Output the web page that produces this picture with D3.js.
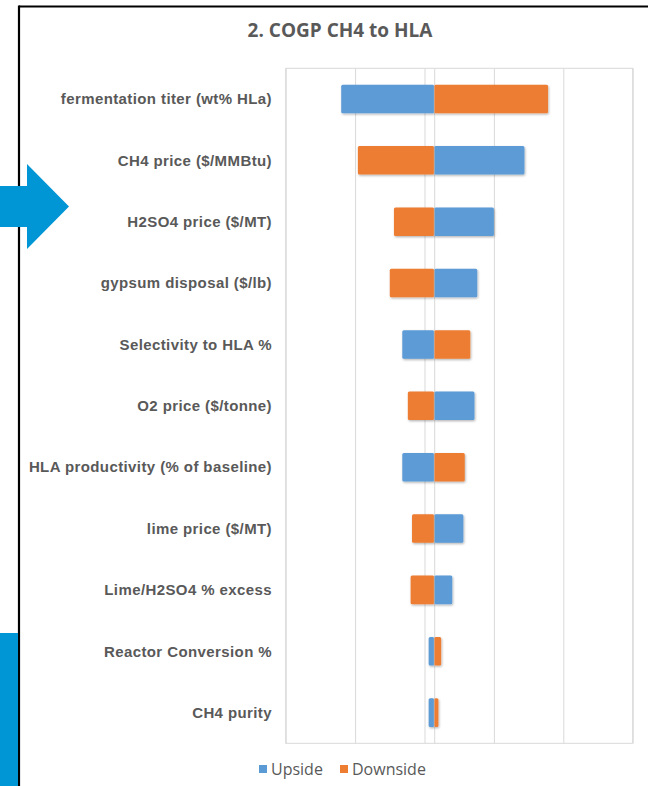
<!DOCTYPE html>
<html>
<head>
<meta charset="utf-8">
<script src="https://cdn.jsdelivr.net/npm/d3@7"></script>
<style>
  html, body { margin: 0; padding: 0; background: #fff; }
  svg { display: block; }
</style>
</head>
<body>
<svg id="chart" width="648" height="786"></svg>
<script>
// Sensitivity parameters, top (largest swing) to bottom
const categories = [
  "fermentation titer (wt% HLa)",
  "CH4 price ($/MMBtu)",
  "H2SO4 price ($/MT)",
  "gypsum disposal ($/lb)",
  "Selectivity to HLA %",
  "O2 price ($/tonne)",
  "HLA productivity (% of baseline)",
  "lime price ($/MT)",
  "Lime/H2SO4 % excess",
  "Reactor Conversion %",
  "CH4 purity"
];
// Result for each parameter at its upside and downside setting
const upside   = [0.90, 2.22, 2.00, 1.88, 1.34, 1.86, 1.34, 1.78, 1.70, 1.53, 1.53];
const downside = [2.39, 1.02, 1.28, 1.25, 1.83, 1.38, 1.79, 1.41, 1.40, 1.62, 1.60];
const baseValue = 1.57;
const xTicks = [0.5, 1.0, 1.5, 2.0, 2.5, 3.0];
const seriesNames = ["Upside", "Downside"];
const seriesColors = ["#5B9BD5", "#ED7D31"];
const title = "2. COGP CH4 to HLA";

const svg = d3.select("#chart");

// Slide frame lines
svg.append("line").attr("x1", 19).attr("x2", 648).attr("y1", 6.5).attr("y2", 6.5)
  .attr("stroke", "#000").attr("stroke-width", 2.2);
svg.append("line").attr("x1", 19).attr("x2", 19).attr("y1", 5.4).attr("y2", 786)
  .attr("stroke", "#000").attr("stroke-width", 2.2);

// Slide decorations: pointer arrow and side bar
svg.append("polygon")
  .attr("points", "0,186 27,186 27,164 69,206.5 27,249 27,227 0,227")
  .attr("fill", "#0096D6");
svg.append("rect").attr("x", 0).attr("y", 633).attr("width", 18).attr("height", 153)
  .attr("fill", "#0096D6");

// Title
svg.append("text")
  .attr("x", 340).attr("y", 37)
  .attr("text-anchor", "middle")
  .attr("font-family", "'Open Sans', sans-serif")
  .attr("font-weight", "bold")
  .attr("font-size", 19)
  .attr("fill", "#595959")
  .text(title);

const plot = { left: 285.7, right: 632.7, top: 68.3, bottom: 743.3 };

const x = d3.scaleLinear().domain([xTicks[0], xTicks[xTicks.length - 1]])
  .range([plot.left, plot.right]);
const y = d3.scaleBand().domain(categories)
  .range([plot.top, plot.bottom])
  .paddingInner(0.535).paddingOuter(0.2675);

// Drop shadow for bars
const defs = svg.append("defs");
const f = defs.append("filter").attr("id", "shadow")
  .attr("x", "-20%").attr("y", "-30%").attr("width", "140%").attr("height", "160%");
f.append("feDropShadow").attr("dx", 0.8).attr("dy", 1.2).attr("stdDeviation", 1)
  .attr("flood-color", "#000").attr("flood-opacity", 0.3);

// Gridlines from the x axis, ticks without labels
const gridAxis = d3.axisBottom(x).tickValues(xTicks)
  .tickSize(-(plot.bottom - plot.top)).tickFormat("");
const grid = svg.append("g")
  .attr("transform", `translate(0,${plot.bottom})`)
  .call(gridAxis);
grid.select(".domain").remove();
grid.selectAll(".tick line").attr("stroke", "#d9d9d9").attr("stroke-width", 1);

// Plot area border
svg.append("rect")
  .attr("x", plot.left).attr("y", plot.top)
  .attr("width", plot.right - plot.left).attr("height", plot.bottom - plot.top)
  .attr("fill", "none").attr("stroke", "#d9d9d9").attr("stroke-width", 1);

// Vertical category axis at the base value
const yAxis = svg.append("g")
  .attr("transform", `translate(${x(baseValue)},0)`)
  .call(d3.axisLeft(y).tickSize(0).tickFormat(""));
yAxis.select(".domain").attr("stroke", "#d9d9d9");

// Bars
const rows = categories.map((c, i) => ({ cat: c, vals: [upside[i], downside[i]] }));
const barG = svg.append("g").attr("filter", "url(#shadow)");
rows.forEach(r => {
  r.vals.forEach((v, s) => {
    const x0 = Math.min(x(baseValue), x(v));
    const x1 = Math.max(x(baseValue), x(v));
    barG.append("rect")
      .attr("x", x0).attr("y", y(r.cat))
      .attr("width", x1 - x0).attr("height", y.bandwidth())
      .attr("rx", 1.5)
      .attr("fill", seriesColors[s]);
  });
});
// thin divider where the two halves meet
svg.append("g").selectAll("line").data(categories).join("line")
  .attr("x1", x(baseValue)).attr("x2", x(baseValue))
  .attr("y1", d => y(d)).attr("y2", d => y(d) + y.bandwidth())
  .attr("stroke", "#c9c9c9").attr("stroke-width", 0.8).attr("opacity", 0.6);

// Category labels
svg.append("g").selectAll("text").data(categories).join("text")
  .attr("x", 272)
  .attr("y", d => y(d) + y.bandwidth() / 2)
  .attr("dy", "0.35em")
  .attr("text-anchor", "end")
  .attr("font-family", "'Liberation Sans', Arial, sans-serif")
  .attr("font-weight", "bold")
  .attr("font-size", 15)
  .attr("letter-spacing", 0.4)
  .attr("fill", "#595959")
  .text(d => d);

// Legend
const legendItems = [
  { name: seriesNames[0], color: seriesColors[0], x: 259 },
  { name: seriesNames[1], color: seriesColors[1], x: 340 }
];
const lg = svg.append("g");
legendItems.forEach(it => {
  lg.append("rect").attr("x", it.x).attr("y", 765).attr("width", 8).attr("height", 8)
    .attr("fill", it.color);
  lg.append("text").attr("x", it.x + 12).attr("y", 775)
    .attr("font-family", "'Open Sans', sans-serif")
    .attr("font-size", 16)
    .attr("fill", "#595959")
    .text(it.name);
});
</script>
</body>
</html>
